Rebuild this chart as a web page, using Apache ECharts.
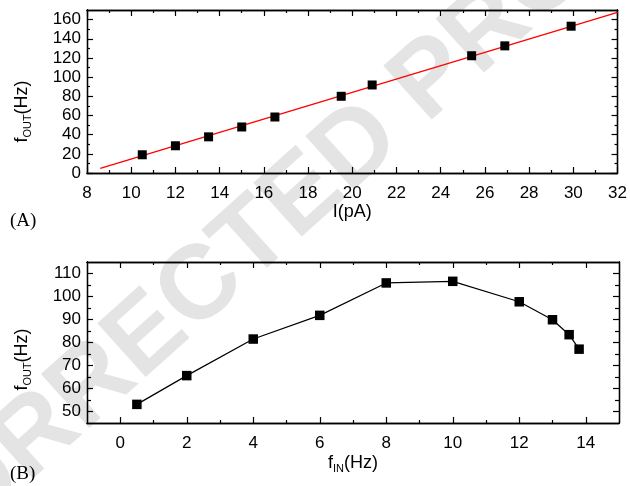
<!DOCTYPE html>
<html><head><meta charset="utf-8">
<script src="https://cdn.jsdelivr.net/npm/echarts@6/dist/echarts.min.js"></script>
<style>html,body{margin:0;padding:0;background:#fff}#c{width:630px;height:486px}</style>
</head><body><div id="c"></div>
<script>
// Panel A data
const currentPA = [10.5, 12, 13.5, 15, 16.5, 19.5, 20.9, 25.4, 26.9, 29.9];
const foutA = [19, 28.4, 37.7, 48, 58.4, 80, 91.8, 122.3, 132.6, 153.1];
const fitX = [8.6, 32];
const fitY = [4.8, 167.4];
const aXTicks = [8, 10, 12, 14, 16, 18, 20, 22, 24, 26, 28, 30, 32];
const aXMinor = [9, 11, 13, 15, 17, 19, 21, 23, 25, 27, 29, 31];
const aYTicks = [0, 20, 40, 60, 80, 100, 120, 140, 160];
const aYMinor = [10, 30, 50, 70, 90, 110, 130, 150];
// Panel B data
const finB = [0.5, 2, 4, 6, 8, 10, 12, 13, 13.5, 13.8];
const foutB = [53.1, 65.6, 81.5, 91.8, 105.9, 106.6, 97.7, 89.9, 83.4, 77.1];
const bXTicks = [0, 2, 4, 6, 8, 10, 12, 14];
const bXMinor = [1, 3, 5, 7, 9, 11, 13];
const bYTicks = [50, 60, 70, 80, 90, 100, 110];
const bYMinor = [55, 65, 75, 85, 95, 105];

const FONT = 'Liberation Sans, Arial, Helvetica, sans-serif';
const BLACK = '#000';

function ax(grid, position, min, max, ticks, len, labels, extra) {
  return Object.assign({
    type: 'value', gridIndex: grid, position: position, min: min, max: max,
    axisLine: { show: true, onZero: false, lineStyle: { color: BLACK, width: 1.3 } },
    axisTick: { show: true, inside: true, length: len, customValues: ticks, lineStyle: { color: BLACK, width: 1.2 } },
    axisLabel: labels ? { show: true, customValues: ticks, color: BLACK, fontSize: 17, fontFamily: FONT,
      margin: (position === 'bottom' ? 12 : 6) } : { show: false },
    splitLine: { show: false },
    minorTick: { show: false }
  }, extra || {});
}

const subRich = {
  m: { fontSize: 18, fontFamily: FONT, color: BLACK, lineHeight: 22 },
  s: { fontSize: 11, fontFamily: FONT, color: BLACK, lineHeight: 11, verticalAlign: 'bottom' }
};

const option = {
  animation: false,
  backgroundColor: '#fff',
  grid: [
    { left: 87, right: 12, top: 10, height: 163 },
    { left: 87, right: 11, top: 262, height: 161 }
  ],
  xAxis: [
    ax(0, 'bottom', 8, 32, aXTicks, 6, true, {
      name: 'I(pA)', nameLocation: 'middle', nameGap: 30,
      nameTextStyle: { fontSize: 18, fontFamily: FONT, color: BLACK }
    }),
    ax(0, 'bottom', 8, 32, aXMinor, 3, false),
    ax(0, 'top', 8, 32, aXTicks, 6, false),
    ax(0, 'top', 8, 32, aXMinor, 3, false),
    ax(1, 'bottom', -1, 15, bXTicks, 6, true, {
      name: '{m|f}{s|IN}{m|(Hz)}', nameLocation: 'middle', nameGap: 29,
      nameTextStyle: { rich: subRich }
    }),
    ax(1, 'bottom', -1, 15, bXMinor, 3, false),
    ax(1, 'top', -1, 15, bXTicks, 6, false),
    ax(1, 'top', -1, 15, bXMinor, 3, false)
  ],
  yAxis: [
    ax(0, 'left', 0, 170, aYTicks, 6, true, {
      name: '{m|f}{s|OUT}{m|(Hz)}', nameLocation: 'middle', nameGap: 54,
      nameTextStyle: { rich: subRich, padding: [0, 40, 0, 0] }
    }),
    ax(0, 'left', 0, 170, aYMinor, 3, false),
    ax(0, 'right', 0, 170, aYTicks, 6, false),
    ax(0, 'right', 0, 170, aYMinor, 3, false),
    ax(1, 'left', 45, 115, bYTicks, 6, true, {
      name: '{m|f}{s|OUT}{m|(Hz)}', nameLocation: 'middle', nameGap: 54,
      nameTextStyle: { rich: subRich, padding: [0, 34, 0, 0] }
    }),
    ax(1, 'left', 45, 115, bYMinor, 4, false),
    ax(1, 'right', 45, 115, bYTicks, 6, false),
    ax(1, 'right', 45, 115, bYMinor, 4, false)
  ],
  graphic: [
    { type: 'text', x: 288, y: 210, rotation: 42 * Math.PI / 180, z: -10, silent: true,
      style: { text: 'CORRECTED PROOF', fontSize: 105, fontWeight: 'bold', fontFamily: FONT,
        fill: '#e4e4e4', textAlign: 'center', textVerticalAlign: 'middle' } },
    { type: 'text', left: 10, top: 212,
      style: { text: '(A)', fontSize: 19, fontFamily: 'Liberation Serif, Times New Roman, serif', fill: BLACK } },
    { type: 'text', left: 10, top: 465,
      style: { text: '(B)', fontSize: 19, fontFamily: 'Liberation Serif, Times New Roman, serif', fill: BLACK } }
  ],
  series: [
    { type: 'line', xAxisIndex: 0, yAxisIndex: 0, data: fitX.map((x, i) => [x, fitY[i]]),
      showSymbol: false, symbol: 'none', lineStyle: { color: '#ff0000', width: 1.3 }, z: 3 },
    { type: 'scatter', xAxisIndex: 0, yAxisIndex: 0, data: currentPA.map((x, i) => [x, foutA[i]]),
      symbol: 'rect', symbolSize: 9, itemStyle: { color: BLACK, opacity: 1 }, z: 4 },
    { type: 'line', xAxisIndex: 4, yAxisIndex: 4, data: finB.map((x, i) => [x, foutB[i]]),
      symbol: 'rect', symbolSize: 9.5, showSymbol: true,
      lineStyle: { color: BLACK, width: 1.2 }, itemStyle: { color: BLACK, opacity: 1 }, z: 4 }
  ]
};
const chart = echarts.init(document.getElementById('c'));
chart.setOption(option);
</script></body></html>
